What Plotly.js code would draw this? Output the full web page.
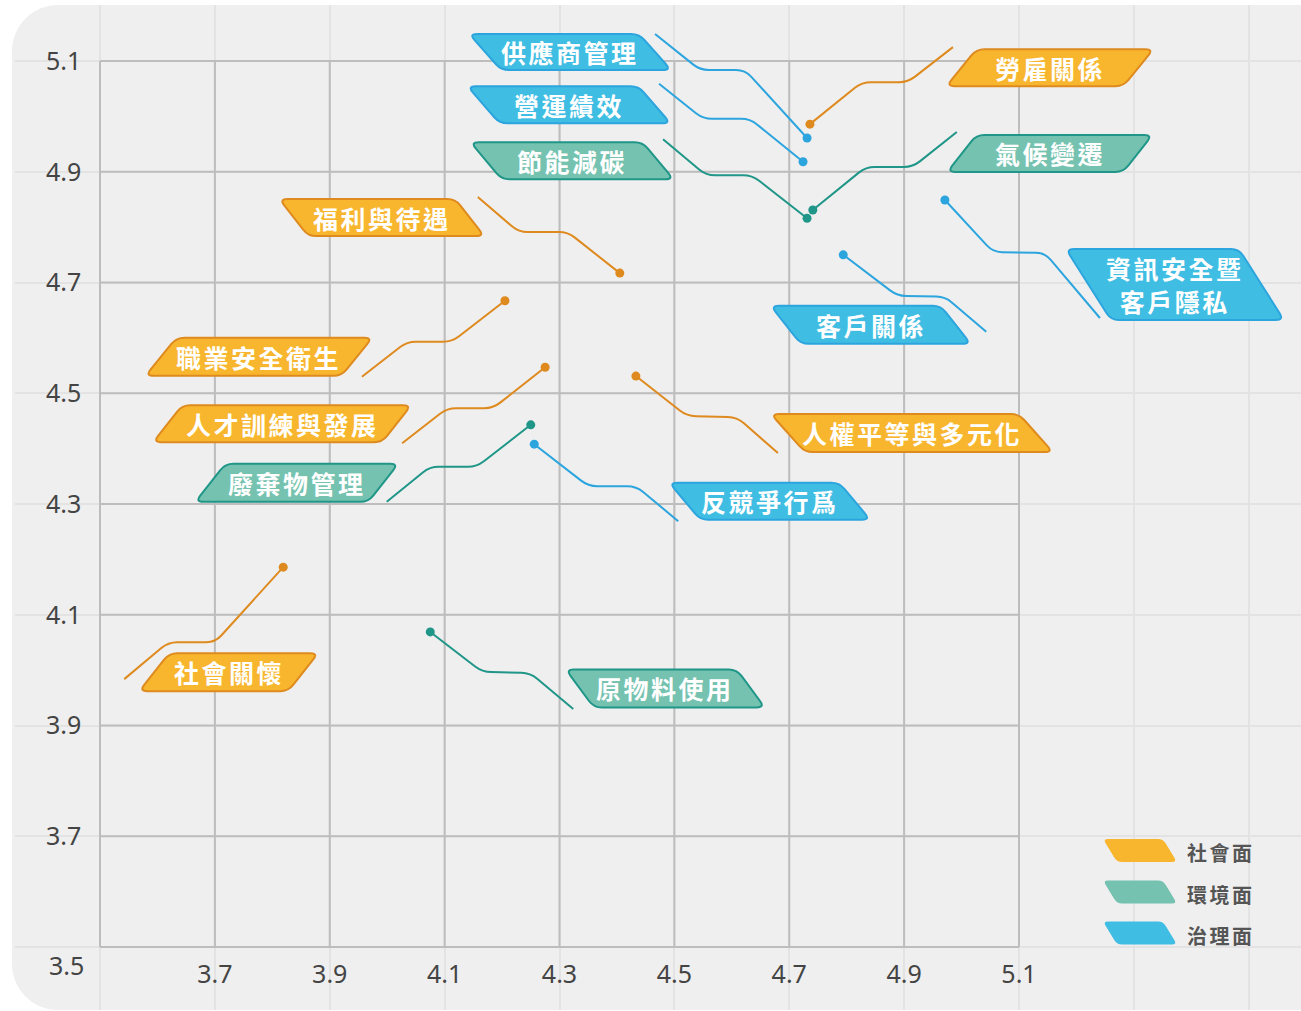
<!DOCTYPE html>
<html><head><meta charset="utf-8">
<script src="https://cdn.plot.ly/plotly-3.0.1.min.js"></script>
<style>
html,body{margin:0;padding:0;background:#fff;overflow:hidden;}
#bg{position:absolute;left:12px;top:5px;width:1340px;height:1005px;border-radius:46px;background:#efefef;}
#chart{position:absolute;left:0;top:0;width:1301px;height:1011px;}
.annotation-text[style*="CJK"]{letter-spacing:2.5px;}
</style></head><body>
<div id="bg"></div><div id="chart"></div>
<script>
// ---------- data ----------
const topics = ['供應商管理','營運績效','節能減碳','勞雇關係','氣候變遷','資訊安全暨<br>客戶隱私','客戶關係','福利與待遇','職業安全衛生','人才訓練與發展','廢棄物管理','人權平等與多元化','反競爭行爲','社會關懷','原物料使用'];
const xScore = [4.731,4.724,4.731,4.736,4.741,4.971,4.794,4.405,4.205,4.275,4.250,4.433,4.256,3.819,4.075];
const yScore = [4.961,4.918,4.816,4.986,4.831,4.849,4.750,4.717,4.667,4.547,4.443,4.531,4.408,4.186,4.069];
const topicGroup = [2,2,1,0,1,2,2,0,0,0,1,0,2,0,1];
const groupNames = ['社會面','環境面','治理面'];
const xTickVals = [3.5,3.7,3.9,4.1,4.3,4.5,4.7,4.9,5.1,5.3,5.5];
const xTickText = ['','3.7','3.9','4.1','4.3','4.5','4.7','4.9','5.1','',''];
const yTickVals = [3.5,3.7,3.9,4.1,4.3,4.5,4.7,4.9,5.1];
const yTickText = ['','3.7','3.9','4.1','4.3','4.5','4.7','4.9','5.1'];
const cornerTick = '3.5';

// ---------- styles ----------
const fillCol = ['#F8B62E','#74C2AF','#40BDE2'];
const lineCol = ['#DE8A1E','#1F9688','#2CA5DE'];

// label placement (screen pixel offsets from each point; y down)
const placement = [
  {bx:-237,by:-86,w:170,h:38,s:32,lead:[[0,0],[-62,-68],[-107,-68],[-152,-104]]},
  {bx:-234,by:-57,w:171,h:39,s:32,lead:[[0,0],[-53,-43],[-100,-43],[-144,-78]]},
  {bx:-235,by:-57.5,w:172,h:39,s:31,lead:[[0,0],[-55,-43],[-101,-43],[-144,-79]]},
  {bx:240,by:-56.5,w:177,h:39,s:-30,lead:[[0,0],[52,-42],[98,-42],[143,-77]]},
  {bx:237,by:-56.5,w:176,h:39,s:-29,lead:[[0,0],[53,-43],[100,-43],[144,-78]]},
  {bx:230,by:84.5,w:173,h:73,s:45,lead:[[0,0],[48,52],[100,53],[155,118]]},
  {bx:27.5,by:70,w:170,h:40,s:30,lead:[[0,0],[54,41],[102,42],[143,77]]},
  {bx:-238,by:-55.5,w:176,h:39,s:29,lead:[[0,0],[-52,-41],[-101,-41],[-142,-76]]},
  {bx:-246,by:56,w:196,h:40,s:-31,lead:[[0,0],[-53,41],[-98,41],[-143,76]]},
  {bx:-263,by:56.5,w:229,h:39,s:-29,lead:[[0,0],[-52,41],[-98,41],[-143,76]]},
  {bx:-234,by:58,w:173,h:40,s:-30,lead:[[0,0],[-54,42],[-101,42],[-144,77]]},
  {bx:276,by:57,w:248,h:40,s:34,lead:[[0,0],[51,40],[101,41],[142,77]]},
  {bx:235.5,by:57,w:170,h:39,s:31,lead:[[0,0],[54,42],[102,42],[144,77]]},
  {bx:-54.5,by:105,w:149,h:40,s:-30,lead:[[0,0],[-68,75],[-115,75],[-159,112]]},
  {bx:235,by:56.5,w:171,h:40,s:28,lead:[[0,0],[52,40],[100,41],[143,77]]}
];

// ---------- geometry helpers ----------
const W = 1301, H = 1011, M = {l:15, r:0, t:5, b:1};
const PW = W - M.l - M.r, PH = H - M.t - M.b;
// axis calibration: x 3.5 at px 100, 5.1 at px 1019 ; y 5.1 at px 61, 3.5 at px 947
const xppu = (1019 - 100) / 1.6, yppu = (947 - 61) / 1.6;
const xRange = [3.5 - (100 - M.l) / xppu, 3.5 + (W - M.r - 100) / xppu];
const yRange = [3.5 - (H - M.b - 947) / yppu, 5.1 + (61 - M.t) / yppu];
const px2paperX = p => (p - M.l) / PW;
const px2paperY = p => 1 - (p - M.t) / PH;

const f = v => v.toFixed(2);
function toward(a, b, r) {
  const dx = b[0]-a[0], dy = b[1]-a[1], L = Math.hypot(dx, dy);
  const k = Math.min(r, L/2) / L;
  return [a[0]+dx*k, a[1]+dy*k];
}
function roundedPath(pts, r, closed) {
  const P = pts.map(p => [p[0], -p[1]]);
  const n = P.length;
  let d = '';
  if (closed) {
    for (let i = 0; i < n; i++) {
      const prev = P[(i-1+n)%n], cur = P[i], next = P[(i+1)%n];
      const a = toward(cur, prev, r), b = toward(cur, next, r);
      d += (i === 0 ? 'M' : 'L') + f(a[0]) + ',' + f(a[1]) + ' Q' + f(cur[0]) + ',' + f(cur[1]) + ' ' + f(b[0]) + ',' + f(b[1]) + ' ';
    }
    return d + 'Z';
  }
  d = 'M' + f(P[0][0]) + ',' + f(P[0][1]) + ' ';
  for (let i = 1; i < n-1; i++) {
    const a = toward(P[i], P[i-1], r), b = toward(P[i], P[i+1], r);
    d += 'L' + f(a[0]) + ',' + f(a[1]) + ' Q' + f(P[i][0]) + ',' + f(P[i][1]) + ' ' + f(b[0]) + ',' + f(b[1]) + ' ';
  }
  return d + 'L' + f(P[n-1][0]) + ',' + f(P[n-1][1]);
}
function parallelogram(cx, cy, w, h, s) {
  return [[cx - w/2 - s/2, cy - h/2],[cx + w/2 - s/2, cy - h/2],[cx + w/2 + s/2, cy + h/2],[cx - w/2 + s/2, cy + h/2]];
}

// ---------- shapes ----------
const shapes = [];
// dark grid inside the scored region
yTickVals.forEach(v => {
  shapes.push({type:'line', xref:'x', yref:'y', x0:xTickVals[0], x1:xTickVals[8], y0:v, y1:v, layer:'between', line:{color:'#bdbdbd', width:2}});
});
xTickVals.slice(0, 9).forEach(v => {
  shapes.push({type:'line', xref:'x', yref:'y', x0:v, x1:v, y0:yTickVals[0], y1:yTickVals[8], layer:'between', line:{color:'#bdbdbd', width:2}});
});
// leader lines
topics.forEach((t, i) => {
  const p = placement[i], g = topicGroup[i];
  shapes.push({type:'path', xref:'x', yref:'y', xsizemode:'pixel', ysizemode:'pixel',
    xanchor:xScore[i], yanchor:yScore[i], path:roundedPath(p.lead, 9, false),
    fillcolor:'rgba(0,0,0,0)', layer:'between', line:{color:lineCol[g], width:2}});
});
// label boxes
topics.forEach((t, i) => {
  const p = placement[i], g = topicGroup[i];
  shapes.push({type:'path', xref:'x', yref:'y', xsizemode:'pixel', ysizemode:'pixel',
    xanchor:xScore[i], yanchor:yScore[i], path:roundedPath(parallelogram(p.bx, p.by, p.w, p.h - 2, p.s), 8, true),
    fillcolor:fillCol[g], layer:'above', line:{color:lineCol[g], width:2}});
});
// legend swatches
const legendRowsY = [850.5, 892, 933];
groupNames.forEach((gname, g) => {
  shapes.push({type:'path', xref:'paper', yref:'paper', xsizemode:'pixel', ysizemode:'pixel',
    xanchor:px2paperX(1140), yanchor:px2paperY(legendRowsY[g]),
    path:roundedPath(parallelogram(0, 0, 60, 23, 14), 5, true),
    fillcolor:fillCol[g], layer:'above', line:{width:0}});
});

// ---------- annotations ----------
const annotations = [];
topics.forEach((t, i) => {
  const p = placement[i];
  annotations.push({xref:'x', yref:'y', x:xScore[i], y:yScore[i], xshift:p.bx, yshift:-p.by,
    text:t, showarrow:false, xanchor:'center', yanchor:'middle',
    font:{family:'"Noto Sans CJK TC", "Noto Sans CJK SC", sans-serif', size:25, color:'#ffffff', weight:'bold'}});
});
groupNames.forEach((gname, g) => {
  annotations.push({xref:'paper', yref:'paper', x:px2paperX(1185), y:px2paperY(legendRowsY[g] + 2),
    text:gname, showarrow:false, xanchor:'left', yanchor:'middle',
    font:{family:'"Noto Sans CJK TC", sans-serif', size:20, color:'#555555', weight:'bold'}});
});
annotations.push({xref:'paper', yref:'y', x:px2paperX(66), y:yTickVals[0], yshift:-18, text:cornerTick,
  showarrow:false, xanchor:'center', yanchor:'middle', font:{family:'"Noto Sans", sans-serif', size:25, color:'#444444'}});

// ---------- traces ----------
const traces = groupNames.map((gname, g) => {
  const idx = topics.map((t, i) => i).filter(i => topicGroup[i] === g);
  return {type:'scatter', mode:'markers', name:gname, x:idx.map(i => xScore[i]), y:idx.map(i => yScore[i]),
    marker:{size:9, color:lineCol[g]}, hoverinfo:'skip', cliponaxis:false};
});

const layout = {
  width:W, height:H, margin:M,
  paper_bgcolor:'rgba(0,0,0,0)', plot_bgcolor:'rgba(0,0,0,0)',
  showlegend:false,
  font:{family:'"Noto Sans", sans-serif', color:'#444444'},
  xaxis:{range:xRange, tickmode:'array', tickvals:xTickVals, ticktext:xTickText, showgrid:true, gridcolor:'#e3e3e3', gridwidth:2,
    zeroline:false, showline:false, ticks:'', ticklabelposition:'inside', ticklabelstandoff:19, tickfont:{size:25, color:'#444444'}, fixedrange:true},
  yaxis:{range:yRange, tickmode:'array', tickvals:yTickVals, ticktext:yTickText, showgrid:true, gridcolor:'#e3e3e3', gridwidth:2,
    zeroline:false, showline:false, ticks:'', ticklabelposition:'inside', ticklabelstandoff:28, tickfont:{size:25, color:'#444444'}, fixedrange:true},
  shapes:shapes, annotations:annotations
};
Plotly.newPlot('chart', traces, layout, {displayModeBar:false, staticPlot:true});
</script>
</body></html>
